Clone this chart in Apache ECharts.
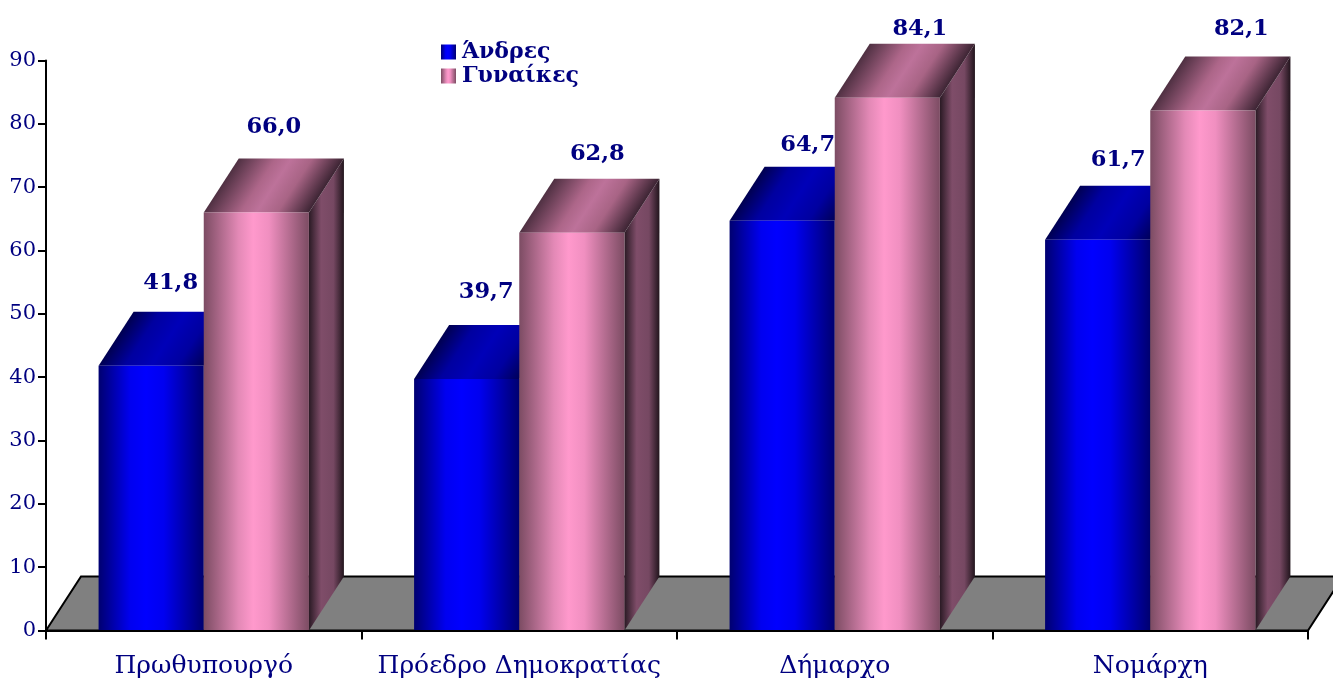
<!DOCTYPE html>
<html><head><meta charset="utf-8">
<style>html,body{margin:0;padding:0;background:#fff}#c{width:1333px;height:680px}</style>
<script src="https://cdn.jsdelivr.net/npm/echarts@6/dist/echarts.min.js"></script>
</head><body><div id="c"></div>
<script>
const categories = ['Πρωθυπουργό','Πρόεδρο Δημοκρατίας','Δήμαρχο','Νομάρχη'];
const men = [41.8,39.7,64.7,61.7];
const women = [66.0,62.8,84.1,82.1];
const yTicks = {min:0,max:90,interval:10};
const nameMen = 'Άνδρες', nameWomen = 'Γυναίκες';

// layout only
const DX = 35, DY = -54;
const labelShiftMen = [[2,29],[2,33],[8,22],[3,26]];
const labelShiftWomen = [[0,31],[8,25],[15,15],[21,27]];

const G = echarts.graphic.LinearGradient;
const st = (arr)=>arr.map(([offset,color])=>({offset,color}));
const palettes = {
  men:{front:st([[0,'#000070'],[.3,'#0000f0'],[.45,'#0000ff'],[.62,'#0000f0'],[1,'#000070']]),
       top:st([[0,'#000050'],[.25,'#0000a0'],[.5,'#0000b8'],[.75,'#0000a0'],[1,'#000058']]),
       side:st([[0,'#00001a'],[.4,'#000070'],[1,'#00001a']])},
  women:{front:st([[0,'#7c4c63'],[.33,'#e389b6'],[.47,'#ff99cc'],[.62,'#f08fc0'],[1,'#7c4c63']]),
       top:st([[0,'#4f3042'],[.35,'#ad6689'],[.5,'#bd729a'],[.7,'#a86485'],[1,'#3c2433']]),
       side:st([[0,'#2a1a24'],[.35,'#7f4d69'],[.7,'#764862'],[1,'#22151d']])}
};
function faces(api,xl,w,v,pal){
  const y0 = api.coord([0,0])[1], yt = api.coord([0,v])[1];
  const n2 = DX*DX+DY*DY, t = w*(-DY)/n2;
  const topGrad = new G(xl,yt,xl+(-DY)*t,yt+DX*t,pal.top,true);
  return [
    {type:'polygon',shape:{points:[[xl+w,yt],[xl+w+DX,yt+DY],[xl+w+DX,y0+DY],[xl+w,y0]]},
     style:{fill:new G(0,0,1,0,pal.side)}},
    {type:'polygon',shape:{points:[[xl,yt],[xl+w,yt],[xl+w+DX,yt+DY],[xl+DX,yt+DY]]},
     style:{fill:topGrad}},
    {type:'rect',shape:{x:xl,y:yt,width:w,height:y0-yt},
     style:{fill:new G(0,0,1,0,pal.front)}}
  ];
}
function label(api,xl,w,v,shift){
  const yt = api.coord([0,v])[1];
  return {type:'text',style:{
    x:xl+w/2+DX/2+shift[0], y:yt+DY-shift[1],
    text:v.toFixed(1).replace('.',','), fill:'#000080',
    font:'bold 22.5px "DejaVu Serif"', align:'center', verticalAlign:'middle'}};
}
function barRender(isMen){
  return function(params,api){
    const i = api.value(0), v = api.value(1);
    const band = api.size([1,0])[0], w = band/3, c = api.coord([i,0])[0];
    const xl = isMen ? c-w : c;
    const pal = isMen ? palettes.men : palettes.women;
    const sh = (isMen?labelShiftMen:labelShiftWomen)[i];
    return {type:'group',children:[...faces(api,xl,w,v,pal),label(api,xl,w,v,sh)]};
  };
}
const chart = echarts.init(document.getElementById('c'),null,{renderer:'canvas'});
chart.setOption({
  animation:false,
  backgroundColor:'#fff',
  grid:{left:46,right:25,top:60.5,bottom:49.5,containLabel:false},
  legend:{show:true,orient:'vertical',left:436,top:36,itemWidth:15,itemHeight:15,itemGap:2,
    selectedMode:false,icon:'rect',
    textStyle:{color:'#000080',fontFamily:'DejaVu Serif',fontWeight:'bold',fontSize:22,padding:[0,0,0,1]},
    data:[nameMen,nameWomen]},
  xAxis:{type:'category',data:categories,z:10,
    axisLine:{lineStyle:{color:'#000',width:2}},
    axisTick:{show:true,length:9,alignWithLabel:false,lineStyle:{color:'#000',width:2}},
    axisLabel:{color:'#000080',fontFamily:'DejaVu Serif',fontSize:25,margin:23,interval:0}},
  yAxis:{type:'value',min:yTicks.min,max:yTicks.max,interval:yTicks.interval,z:10,
    splitLine:{show:false},
    axisLine:{show:true,lineStyle:{color:'#000',width:2}},
    axisTick:{show:true,length:8,lineStyle:{color:'#000',width:2}},
    axisLabel:{color:'#000080',fontFamily:'DejaVu Serif',fontSize:21,margin:10}},
  series:[
    {type:'custom',name:'floor',silent:true,z:1,clip:false,data:[[0,0]],
     renderItem(params,api){
       const s = params.coordSys, yb = s.y+s.height, xl = s.x, xr = s.x+s.width;
       return {type:'polygon',shape:{points:[[xl,yb],[xl+DX,yb+DY],[xr+DX,yb+DY],[xr,yb]]},
         style:{fill:'#808080',stroke:'#000',lineWidth:2}};
     }},
    {type:'custom',name:nameMen,silent:true,z:2,clip:false,
     itemStyle:{color:new G(0,0,1,0,palettes.men.front)},
     renderItem:barRender(true),encode:{x:0,y:1},data:men.map((v,i)=>[i,v])},
    {type:'custom',name:nameWomen,silent:true,z:3,clip:false,
     itemStyle:{color:new G(0,0,1,0,palettes.women.front)},
     renderItem:barRender(false),encode:{x:0,y:1},data:women.map((v,i)=>[i,v])}
  ]
});
</script></body></html>
